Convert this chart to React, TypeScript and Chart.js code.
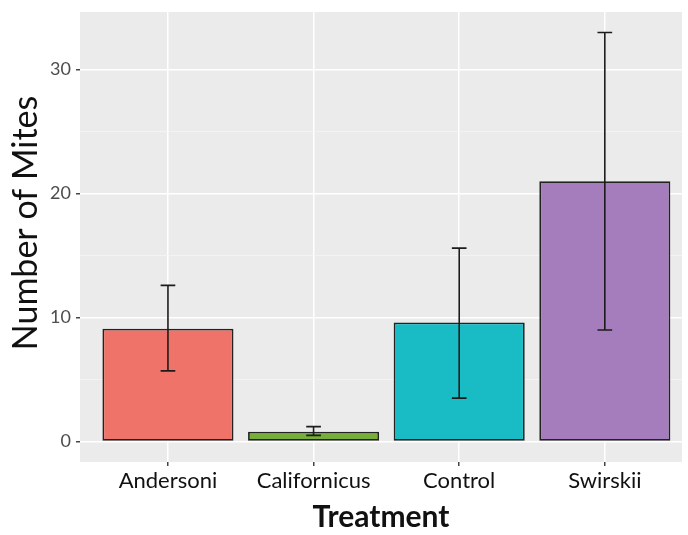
import React, { useEffect, useRef } from "react";
import { Chart, registerables } from "chart.js";

Chart.register(...registerables);

const categories = ["Andersoni", "Californicus", "Control", "Swirskii"];
const meanMites = [9.1, 0.8, 9.6, 21.0];
const lowerMites = [5.7, 0.5, 3.5, 9.0];
const upperMites = [12.6, 1.2, 15.6, 33.0];
const barColors = ["#F0736A", "#76AD3B", "#19BCC4", "#A57CBC"];
const yTickValues = [0, 5, 10, 15, 20, 25, 30];
const yTitle = "Number of Mites";
const xTitle = "Treatment";

const FONT = "Lato, 'Noto Sans', sans-serif";

const panelBackground = {
  id: "panelBackground",
  beforeDraw(chart: any) {
    const { ctx, chartArea } = chart;
    ctx.save();
    ctx.fillStyle = "#EBEBEB";
    ctx.fillRect(chartArea.left, chartArea.top, chartArea.right - chartArea.left, chartArea.bottom - chartArea.top);
    ctx.restore();
  },
};

const errorBars = {
  id: "errorBars",
  afterDatasetsDraw(chart: any) {
    const meta = chart.getDatasetMeta(0);
    const yScale = chart.scales.y;
    const ctx = chart.ctx;
    ctx.save();
    ctx.strokeStyle = "#1c1c1c";
    ctx.lineWidth = 1.6;
    meta.data.forEach((bar: any, i: number) => {
      const x = bar.x;
      const hw = bar.width * 0.056;
      const yl = yScale.getPixelForValue(lowerMites[i]);
      const yh = yScale.getPixelForValue(upperMites[i]);
      ctx.beginPath();
      ctx.moveTo(x, yl);
      ctx.lineTo(x, yh);
      ctx.moveTo(x - hw, yl);
      ctx.lineTo(x + hw, yl);
      ctx.moveTo(x - hw, yh);
      ctx.lineTo(x + hw, yh);
      ctx.stroke();
    });
    ctx.restore();
  },
};

const yTitlePlugin = {
  id: "yTitlePlugin",
  afterDraw(chart: any) {
    const ctx = chart.ctx;
    ctx.save();
    ctx.translate(26, 223);
    ctx.rotate(-Math.PI / 2);
    ctx.fillStyle = "#111111";
    ctx.font = `34px ${FONT}`;
    ctx.textAlign = "center";
    ctx.textBaseline = "middle";
    ctx.fillText(yTitle, 0, 0);
    ctx.restore();
  },
};

export default function App() {
  const ref = useRef<HTMLCanvasElement | null>(null);

  useEffect(() => {
    if (!ref.current) return;
    const chart = new Chart(ref.current, {
      type: "bar",
      data: {
        datasets: [
          {
            data: meanMites.map((v, i) => ({ x: i + 1, y: v })),
            backgroundColor: barColors,
            borderColor: "#222222",
            borderWidth: 1.8,
            borderSkipped: false,
            barPercentage: 0.9,
            categoryPercentage: 1.0,
          },
        ],
      },
      options: {
        animation: false,
        responsive: false,
        maintainAspectRatio: false,
        layout: { padding: { top: 12, right: 6, left: 0, bottom: 0 } },
        plugins: {
          legend: { display: false },
          tooltip: { enabled: false },
          title: { display: false },
        },
        scales: {
          x: {
            type: "linear",
            offset: false,
            min: 0.396,
            max: 4.53,
            afterBuildTicks: (scale: any) => {
              scale.ticks = categories.map((_, i) => ({ value: i + 1 }));
            },
            afterFit: (scale: any) => {
              scale.height = 73;
              scale.paddingLeft = 0;
              scale.paddingRight = 0;
            },
            ticks: {
              callback: (v: any) => categories[Math.round(Number(v)) - 1] ?? "",
              color: "#111111",
              font: { family: FONT, size: 22 },
              padding: 2,
              maxRotation: 0,
              autoSkip: false,
            },
            grid: {
              offset: false,
              color: "#FFFFFF",
              lineWidth: 1.5,
              drawTicks: true,
              tickLength: 4,
              tickColor: "#444444",
            },
            border: { display: false },
            title: {
              display: true,
              text: xTitle,
              color: "#111111",
              font: { family: FONT, size: 30, weight: "bold" },
              padding: { top: 0, bottom: 0 },
            },
          },
          y: {
            type: "linear",
            min: -1.65,
            max: 34.65,
            afterBuildTicks: (scale: any) => {
              scale.ticks = yTickValues.map((v) => ({ value: v }));
            },
            afterFit: (scale: any) => {
              scale.width = 80;
              scale.paddingTop = 0;
              scale.paddingBottom = 0;
            },
            ticks: {
              callback: (v: any) => (Number(v) % 10 === 0 ? String(v) : ""),
              color: "#4D4D4D",
              font: { family: FONT, size: 18 },
              padding: 5,
            },
            grid: {
              color: (c: any) => (c.tick && c.tick.value % 10 === 0 ? "#FFFFFF" : "#F5F5F5"),
              lineWidth: (c: any) => (c.tick && c.tick.value % 10 === 0 ? 1.5 : 0.8),
              drawTicks: true,
              tickLength: 4,
              tickColor: (c: any) => (c.tick && c.tick.value % 10 === 0 ? "#444444" : "rgba(0,0,0,0)"),
            },
            border: { display: false },
            title: { display: false },
          },
        },
      },
      plugins: [panelBackground, errorBars, yTitlePlugin],
    });
    return () => chart.destroy();
  }, []);

  return (
    <div style={{ position: "absolute", left: 0, top: 0, width: 688, height: 535, background: "#FFFFFF" }}>
      <canvas ref={ref} width={688} height={535} />
    </div>
  );
}
